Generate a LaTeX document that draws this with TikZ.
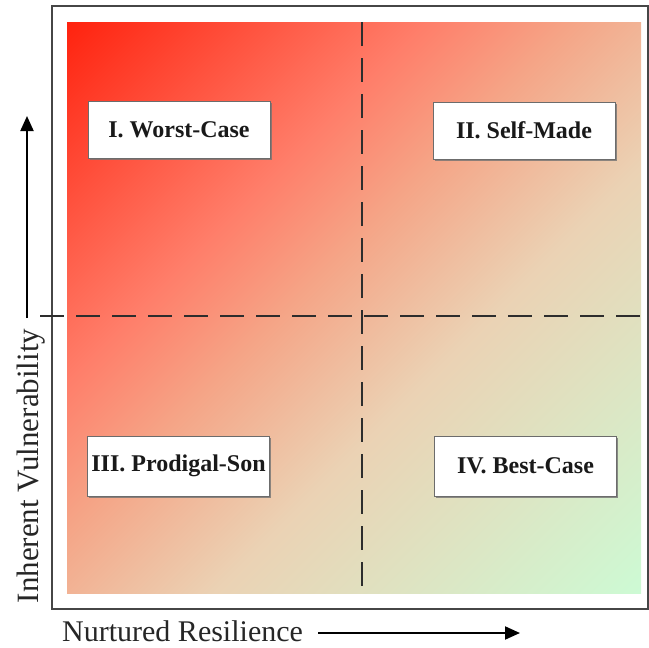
\documentclass[tikz,border=0pt]{standalone}
\usepackage{fontspec}
\setmainfont{Liberation Serif}
\usetikzlibrary{arrows.meta,shadows}
\definecolor{gA}{RGB}{255,35,15}
\definecolor{gB}{RGB}{255,125,105}
\definecolor{gC}{RGB}{245,165,135}
\definecolor{gD}{RGB}{240,186,156}
\definecolor{gE}{RGB}{235,210,180}
\definecolor{gF}{RGB}{205,250,212}
\definecolor{frameC}{RGB}{70,70,70}
\definecolor{dashC}{RGB}{45,45,45}
\pgfdeclarehorizontalshading{quadshade}{100bp}{color(0bp)=(gA); color(14.6bp)=(gA); color(36.5bp)=(gB); color(46bp)=(gC); color(52bp)=(gD); color(59bp)=(gE); color(85.4bp)=(gF); color(100bp)=(gF)}
\tikzset{
  quadbox/.style={draw=gray!85!black, line width=1pt, fill=white, minimum width=182pt, minimum height=57pt, inner sep=0pt,
    font=\fontsize{24}{28}\selectfont\bfseries, text=black!90,
    drop shadow={shadow xshift=1.5pt, shadow yshift=-1.5pt, fill=black!55, opacity=0.8}},
  divider/.style={draw=dashC, line width=1.8pt, dash pattern=on 24pt off 12pt},
  axisarrow/.style={draw=black, line width=2pt, -{Triangle[length=15pt,width=13pt]}},
  axislabel/.style={font=\fontsize{30}{34}\selectfont, text=black!85, inner sep=0pt}
}
\begin{document}
\begin{tikzpicture}[x=1pt,y=-1pt]
\useasboundingbox (0,0) rectangle (649,648);
% outer frame
\draw[frameC, line width=2pt] (52,609) -- (52,6) -- (648,6) -- (648,609) -- cycle;
% gradient field
\shade[shading=quadshade, shading angle=-45] (67,22) rectangle (641,593);
% dividers
\coordinate (vtop) at (362,22);
\coordinate (vbot) at (362,595);
\coordinate (hleft) at (40,316);
\coordinate (hright) at (640,316);
\draw[divider] (vtop) -- (vbot);
\draw[divider] (hleft) -- (hright);
% quadrant boxes
\node[quadbox] (q1) at (179,130) {I. Worst-Case};
\node[quadbox] (q2) at (524,130.5) {II. Self-Made};
\node[quadbox, minimum height=60pt] (q3) at (178.5,466) {III. Prodigal-Son};
\node[quadbox, minimum height=60pt] (q4) at (525.5,466) {IV. Best-Case};
% axes
\node[axislabel, font=\fontsize{31}{35}\selectfont, rotate=90, anchor=base] (ylab) at (38,466) {Inherent Vulnerability};
\node[axislabel, anchor=base west] (xlab) at (62,641) {Nurtured Resilience};
\coordinate (ys) at (27,318);
\coordinate (ye) at (27,116);
\coordinate (xs) at (318,633);
\coordinate (xe) at (520,633);
\draw[axisarrow] (ys) -- (ye);
\draw[axisarrow] (xs) -- (xe);
\end{tikzpicture}
\end{document}
